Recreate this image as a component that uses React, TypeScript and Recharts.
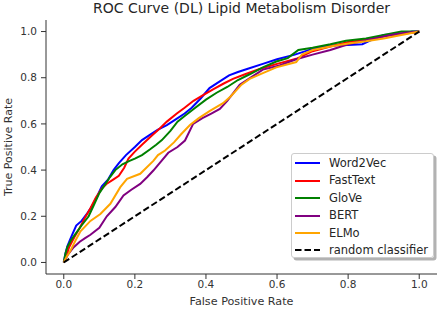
import { LineChart, Line, XAxis, YAxis } from "recharts";

// ROC points: [false positive rate, true positive rate]
const word2vec: [number, number][] = [
  [0, 0], [0.004, 0.035], [0.01, 0.07], [0.018, 0.1], [0.025, 0.125], [0.035, 0.16],
  [0.05, 0.18], [0.065, 0.21], [0.08, 0.245], [0.095, 0.29], [0.107, 0.33], [0.125, 0.36],
  [0.14, 0.4], [0.155, 0.43], [0.175, 0.465], [0.2, 0.5], [0.22, 0.53], [0.24, 0.55],
  [0.265, 0.575], [0.29, 0.595], [0.315, 0.62], [0.34, 0.645], [0.36, 0.67], [0.385, 0.71],
  [0.41, 0.755], [0.44, 0.785], [0.465, 0.81], [0.49, 0.825], [0.52, 0.84], [0.56, 0.86],
  [0.6, 0.88], [0.65, 0.9], [0.7, 0.925], [0.75, 0.94], [0.8, 0.942], [0.84, 0.945],
  [0.86, 0.96], [0.9, 0.985], [0.95, 0.99], [0.98, 1], [1, 1],
];

const fastText: [number, number][] = [
  [0, 0], [0.008, 0.03], [0.015, 0.066], [0.03, 0.11], [0.045, 0.15], [0.06, 0.195],
  [0.075, 0.235], [0.09, 0.28], [0.107, 0.32], [0.12, 0.34], [0.14, 0.36], [0.155, 0.375],
  [0.17, 0.41], [0.182, 0.45], [0.2, 0.48], [0.22, 0.51], [0.248, 0.55], [0.27, 0.58],
  [0.29, 0.61], [0.318, 0.645], [0.34, 0.67], [0.365, 0.7], [0.392, 0.725], [0.42, 0.75],
  [0.45, 0.775], [0.476, 0.795], [0.51, 0.815], [0.551, 0.838], [0.6, 0.86], [0.654, 0.882],
  [0.7, 0.915], [0.75, 0.935], [0.8, 0.955], [0.85, 0.965], [0.9, 0.98], [0.95, 0.99],
  [0.98, 0.995], [1, 1],
];

const glove: [number, number][] = [
  [0, 0], [0.005, 0.04], [0.01, 0.066], [0.02, 0.095], [0.033, 0.124], [0.05, 0.16],
  [0.07, 0.2], [0.085, 0.25], [0.1, 0.3], [0.115, 0.335], [0.13, 0.37], [0.145, 0.4],
  [0.165, 0.425], [0.185, 0.44], [0.2, 0.45], [0.22, 0.465], [0.243, 0.49], [0.26, 0.51],
  [0.276, 0.53], [0.3, 0.57], [0.32, 0.61], [0.341, 0.635], [0.37, 0.67], [0.4, 0.705],
  [0.43, 0.735], [0.46, 0.76], [0.49, 0.79], [0.523, 0.815], [0.56, 0.845], [0.598, 0.87],
  [0.63, 0.885], [0.66, 0.92], [0.7, 0.93], [0.75, 0.945], [0.794, 0.96], [0.85, 0.97],
  [0.9, 0.985], [0.95, 1], [1, 1],
];

const bert: [number, number][] = [
  [0, 0], [0.012, 0.035], [0.028, 0.066], [0.045, 0.09], [0.06, 0.105], [0.075, 0.12],
  [0.1, 0.15], [0.121, 0.2], [0.145, 0.24], [0.168, 0.29], [0.19, 0.315], [0.215, 0.34],
  [0.235, 0.37], [0.252, 0.398], [0.275, 0.44], [0.294, 0.475], [0.32, 0.5], [0.341, 0.528],
  [0.364, 0.6], [0.39, 0.625], [0.415, 0.645], [0.439, 0.665], [0.46, 0.7], [0.48, 0.74],
  [0.495, 0.77], [0.53, 0.805], [0.56, 0.835], [0.607, 0.853], [0.654, 0.88], [0.7, 0.9],
  [0.75, 0.92], [0.8, 0.945], [0.868, 0.968], [0.92, 0.985], [0.96, 0.995], [1, 1],
];

const elmo: [number, number][] = [
  [0, 0], [0.008, 0.025], [0.019, 0.052], [0.033, 0.095], [0.047, 0.135], [0.075, 0.18],
  [0.103, 0.21], [0.131, 0.254], [0.159, 0.326], [0.178, 0.362], [0.215, 0.384],
  [0.252, 0.44], [0.265, 0.465], [0.285, 0.485], [0.31, 0.52], [0.33, 0.555], [0.355, 0.595],
  [0.38, 0.625], [0.41, 0.655], [0.448, 0.69], [0.47, 0.72], [0.5, 0.77], [0.523, 0.795],
  [0.56, 0.82], [0.598, 0.845], [0.654, 0.868], [0.67, 0.9], [0.7, 0.92], [0.75, 0.935],
  [0.8, 0.948], [0.85, 0.958], [0.9, 0.97], [0.95, 0.985], [1, 1],
];

const diagonal: [number, number][] = [
  [0, 0], [1, 1],
];

const ticks = [0, 0.2, 0.4, 0.6, 0.8, 1.0];

const series = [
  { name: "Word2Vec", points: word2vec, color: "#0000ff", dash: undefined },
  { name: "FastText", points: fastText, color: "#ff0000", dash: undefined },
  { name: "GloVe", points: glove, color: "#008000", dash: undefined },
  { name: "BERT", points: bert, color: "#800080", dash: undefined },
  { name: "ELMo", points: elmo, color: "#ffa500", dash: undefined },
  { name: "random classifier", points: diagonal, color: "#000000", dash: "6.5 3" },
];

const font = "'DejaVu Sans', sans-serif";
const ink = "#333333";

const toRows = (pts: [number, number][]) => pts.map(([x, y]) => ({ x, y }));

export default function App() {
  return (
    <div
      style={{
        position: "absolute",
        left: 0,
        top: 0,
        width: 440,
        height: 309,
        background: "#fff",
        fontFamily: font,
      }}
    >
      <div
        style={{
          position: "absolute",
          left: 46,
          width: 391,
          top: 0,
          textAlign: "center",
          fontSize: 14,
          lineHeight: "16px",
          color: "#262626",
          whiteSpace: "nowrap",
        }}
      >
        ROC Curve (DL) Lipid Metabolism Disorder
      </div>

      <LineChart
        width={440}
        height={309}
        margin={{ top: 20, right: 3, bottom: 0, left: 0 }}
        style={{ fontFamily: font }}
      >
        <XAxis
          xAxisId="main"
          dataKey="x"
          type="number"
          domain={[-0.05, 1.05]}
          ticks={ticks}
          tickFormatter={(v: number) => v.toFixed(1)}
          height={35}
          tickSize={5}
          tickMargin={2}
          stroke={ink}
          tick={{ fill: ink, fontSize: 10.5 }}
          allowDataOverflow
          label={{
            value: "False Positive Rate",
            position: "insideBottom",
            offset: 4,
            fill: ink,
            fontSize: 11.2,
          }}
        />
        <XAxis
          xAxisId="top"
          orientation="top"
          type="number"
          domain={[-0.05, 1.05]}
          height={0}
          tick={false}
          tickLine={false}
          stroke={ink}
        />
        <YAxis
          yAxisId="main"
          type="number"
          domain={[-0.05, 1.05]}
          ticks={ticks}
          tickFormatter={(v: number) => v.toFixed(1)}
          width={46}
          tickSize={5}
          tickMargin={4}
          stroke={ink}
          tick={{ fill: ink, fontSize: 10.5 }}
          allowDataOverflow
          label={{
            value: "True Positive Rate",
            angle: -90,
            position: "insideLeft",
            offset: 8,
            fill: ink,
            fontSize: 11,
            style: { textAnchor: "middle" },
          }}
        />
        <YAxis
          yAxisId="right"
          orientation="right"
          type="number"
          domain={[-0.05, 1.05]}
          width={0}
          tick={false}
          tickLine={false}
          stroke={ink}
        />
        {series.map((s) => (
          <Line
            key={s.name}
            xAxisId="main"
            yAxisId="main"
            data={toRows(s.points)}
            dataKey="y"
            name={s.name}
            type="linear"
            stroke={s.color}
            strokeWidth={2}
            strokeDasharray={s.dash}
            dot={false}
            activeDot={false}
            isAnimationActive={false}
          />
        ))}
      </LineChart>

      <div
        style={{
          position: "absolute",
          left: 291,
          top: 153,
          width: 143,
          height: 105,
          boxSizing: "border-box",
          border: "1px solid #cccccc",
          borderRadius: 3,
          background: "rgba(255,255,255,0.8)",
          boxShadow: "2.5px 2.5px 0 rgba(0,0,0,0.3)",
        }}
      >
        {series.map((s, i) => (
          <div
            key={s.name}
            style={{
              position: "absolute",
              left: 3,
              top: 0.8 + i * 17.4,
              height: 17.4,
              display: "flex",
              alignItems: "center",
              whiteSpace: "nowrap",
            }}
          >
            <svg width={25} height={4} style={{ display: "block" }}>
              <line
                x1={0}
                y1={2}
                x2={25}
                y2={2}
                stroke={s.color}
                strokeWidth={2}
                strokeDasharray={s.dash}
              />
            </svg>
            <span
              style={{
                marginLeft: 9,
                fontSize: 11.5,
                lineHeight: "13px",
                color: "#262626",
              }}
            >
              {s.name}
            </span>
          </div>
        ))}
      </div>
    </div>
  );
}
